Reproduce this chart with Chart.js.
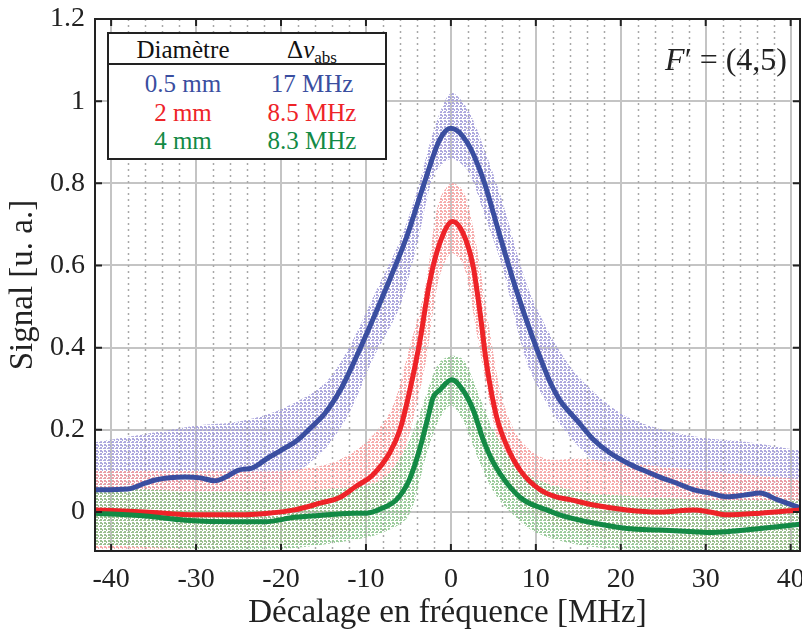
<!DOCTYPE html>
<html>
<head>
<meta charset="utf-8">
<script src="https://cdn.jsdelivr.net/npm/chart.js@4.4.1/dist/chart.umd.min.js"></script>
<style>
  body { margin: 0; background: #fff; }
  #wrap { position: relative; width: 802px; height: 637px; }
  #legendBox {
    position: absolute; left: 107px; top: 32px; width: 276px; height: 124px;
    border: 2px solid #222; background: #fff;
    font-family: "Liberation Serif", "Times New Roman", serif; font-size: 25px;
  }
  #legendBox .row { position: absolute; left: 0; width: 276px; height: 30px; line-height: 30px; }
  #legendBox .c1 { position: absolute; left: 0; width: 148px; text-align: center; }
  #legendBox .c2 { position: absolute; left: 148px; width: 110px; text-align: center; }
  #legendBox .sep { position: absolute; left: 0; top: 29px; width: 276px; height: 2px; background: #222; }
  sub { font-size: 17px; vertical-align: -5px; line-height: 0; }
  #fprime {
    position: absolute; right: 15px; top: 41px;
    font-family: "Liberation Serif", "Times New Roman", serif; font-size: 32px; color: #222;
  }
</style>
</head>
<body>
<div id="wrap">
  <canvas id="myChart" width="802" height="637"></canvas>
  <div id="legendBox">
    <div class="row" style="top:1px;color:#111"><span class="c1">Diamètre</span><span class="c2">Δ<i>ν</i><sub>abs</sub></span></div>
    <div class="sep"></div>
    <div class="row" style="top:35px;color:#3a4ea0"><span class="c1">0.5 mm</span><span class="c2">17 MHz</span></div>
    <div class="row" style="top:64px;color:#ee2328"><span class="c1">2 mm</span><span class="c2">8.5 MHz</span></div>
    <div class="row" style="top:92px;color:#138a45"><span class="c1">4 mm</span><span class="c2">8.3 MHz</span></div>
  </div>
  <div id="fprime"><i>F</i>′ = (4,5)</div>
</div>
<script>
// smoothed signals (MHz, a.u.)
const freqBlue = [-41.9, -38, -36, -34.8, -31.3, -29.5, -27.8, -26.5, -25, -23.4, -21.5, -20, -18, -16.5, -14.8, -12.8, -11.3, -9.2, -7.2, -5.2, -3.3, -1.3, 0, 1.9, 3.8, 5.8, 7.7, 9.7, 11.6, 12.8, 14.8, 16.8, 18.7, 20.7, 22.6, 24.6, 26.6, 28.6, 30.5, 32.5, 34.5, 36.4, 38.4, 41.1];
const sigBlue = [0.054, 0.056, 0.07, 0.078, 0.085, 0.083, 0.076, 0.085, 0.102, 0.107, 0.132, 0.15, 0.176, 0.205, 0.241, 0.305, 0.37, 0.468, 0.566, 0.67, 0.79, 0.907, 0.934, 0.9, 0.81, 0.67, 0.54, 0.42, 0.32, 0.273, 0.224, 0.176, 0.144, 0.12, 0.102, 0.085, 0.07, 0.054, 0.046, 0.037, 0.041, 0.046, 0.03, 0.01];

const freqRed = [-41.9, -36, -30, -25, -21.5, -18.4, -15.3, -13.1, -11.2, -9.2, -7.2, -6.0, -4.9, -3.7, -2.5, -1.3, 0.2, 1.4, 2.6, 3.4, 4.2, 5.4, 6.6, 8.2, 10.5, 12.4, 14, 16.8, 20.7, 24.6, 28.6, 30.5, 32.5, 36.4, 41.1];
const sigRed = [0.005, 0.0, -0.007, -0.007, -0.003, 0.005, 0.022, 0.035, 0.062, 0.09, 0.144, 0.2, 0.29, 0.41, 0.56, 0.655, 0.707, 0.68, 0.6, 0.49, 0.36, 0.23, 0.16, 0.1, 0.054, 0.037, 0.03, 0.017, 0.005, 0.0, 0.005, 0.0, -0.007, -0.003, 0.005];

const freqGreen = [-41.9, -36, -31.3, -25.4, -21.9, -18.4, -14.5, -11.3, -9.9, -8.0, -6.4, -4.9, -3.7, -2.7, -2.1, -1.3, 0.1, 1.4, 2.6, 3.8, 5.0, 6.6, 8.5, 11.3, 12.8, 16.8, 20.7, 24.6, 28.6, 30.5, 32.5, 36.4, 41.1];
const sigGreen = [-0.003, -0.01, -0.02, -0.024, -0.024, -0.013, -0.007, -0.003, -0.003, 0.01, 0.03, 0.078, 0.151, 0.23, 0.278, 0.297, 0.322, 0.297, 0.25, 0.176, 0.12, 0.07, 0.03, 0.005, -0.007, -0.027, -0.04, -0.044, -0.048, -0.05, -0.048, -0.04, -0.03];

// spread of the raw measurements (upper / lower edge of each cloud)
const cloudBlueF = [-41.9, -36, -30, -25, -20, -15, -12, -9, -6, -4, -2, 0, 2, 4, 6, 9, 12, 15, 20, 25, 30, 35, 41.1];
const cloudBlueHi = [0.17, 0.19, 0.21, 0.22, 0.25, 0.31, 0.4, 0.53, 0.66, 0.78, 0.93, 1.02, 0.98, 0.88, 0.76, 0.55, 0.42, 0.33, 0.24, 0.2, 0.18, 0.17, 0.15];
const cloudBlueLo = [0.0, 0.0, 0.02, 0.03, 0.07, 0.15, 0.24, 0.38, 0.5, 0.65, 0.82, 0.86, 0.83, 0.72, 0.6, 0.36, 0.24, 0.16, 0.07, 0.02, 0.0, 0.0, -0.02];

const cloudRedF = [-41.9, -30, -20, -14, -10, -7, -5, -3, -1.5, 0, 1.5, 3, 4.5, 6, 8, 11, 15, 20, 30, 41.1];
const cloudRedHi = [0.1, 0.1, 0.1, 0.12, 0.17, 0.25, 0.39, 0.55, 0.75, 0.8, 0.78, 0.65, 0.45, 0.28, 0.18, 0.13, 0.13, 0.12, 0.1, 0.08];
const cloudRedLo = [-0.09, -0.09, -0.08, -0.06, -0.02, 0.05, 0.18, 0.36, 0.56, 0.63, 0.6, 0.44, 0.27, 0.13, 0.03, -0.02, -0.05, -0.07, -0.09, -0.09];

const cloudGreenF = [-41.9, -30, -20, -12, -8, -5, -3, -1.5, 0, 1.5, 3, 5, 7, 10, 15, 20, 30, 41.1];
const cloudGreenHi = [0.06, 0.05, 0.05, 0.06, 0.08, 0.17, 0.28, 0.36, 0.38, 0.37, 0.3, 0.2, 0.13, 0.08, 0.05, 0.04, 0.03, 0.03];
const cloudGreenLo = [-0.08, -0.09, -0.09, -0.07, -0.05, -0.01, 0.13, 0.22, 0.26, 0.22, 0.14, 0.05, 0.0, -0.05, -0.08, -0.09, -0.095, -0.095];

const xMin = -41.9, xMax = 41.1;
const yMin = -0.095, yMax = 1.2;

const pts = (xs, ys) => xs.map((x, i) => ({ x: x, y: ys[i] }));

// dotted vertical streak texture for the raw-data clouds
function streaks(color) {
  const c = document.createElement("canvas");
  c.width = 4;
  c.height = 6;
  const g = c.getContext("2d");
  g.fillStyle = color;
  g.fillRect(0, 0, 2, 2);
  g.fillRect(0, 3, 2, 2);
  g.fillRect(2, 1, 1, 2);
  g.fillRect(3, 4, 1, 1);
  return g.createPattern(c, "repeat");
}

function cloud(xs, hi, lo, color, order) {
  return [
    { data: pts(xs, hi), borderWidth: 0, pointRadius: 0, fill: "+1", backgroundColor: streaks(color), tension: 0.3, order: order },
    { data: pts(xs, lo), borderWidth: 0, pointRadius: 0, fill: false, tension: 0.3, order: order },
  ];
}

function line(xs, ys, color, order) {
  return { data: pts(xs, ys), borderColor: color, borderWidth: 5, pointRadius: 0, fill: false, cubicInterpolationMode: "monotone", order: order };
}

// minor dotted grid, box frame and inward ticks
const framePlugin = {
  id: "frame",
  beforeDatasetsDraw(chart) {
    const { ctx, chartArea: a, scales } = chart;
    ctx.save();
    ctx.strokeStyle = "#a8a8a8";
    ctx.lineWidth = 1.5;
    ctx.setLineDash([2, 4]);
    for (let v = -40; v <= 40; v += 2) {
      if (v % 10 === 0) continue;
      const px = Math.round(scales.x.getPixelForValue(v)) + 0.5;
      ctx.beginPath();
      ctx.moveTo(px, a.top);
      ctx.lineTo(px, a.bottom);
      ctx.stroke();
    }
    ctx.restore();
  },
  afterDatasetsDraw(chart) {
    const { ctx, chartArea: a, scales } = chart;
    ctx.save();
    ctx.strokeStyle = "#222";
    ctx.lineWidth = 2;
    ctx.strokeRect(a.left, a.top, a.right - a.left, a.bottom - a.top);
    const len = 7;
    ctx.beginPath();
    for (let v = -40; v <= 40; v += 10) {
      const px = scales.x.getPixelForValue(v);
      ctx.moveTo(px, a.bottom);
      ctx.lineTo(px, a.bottom - len);
      ctx.moveTo(px, a.top);
      ctx.lineTo(px, a.top + len);
    }
    for (let v = 0; v <= 1.2001; v += 0.2) {
      const py = scales.y.getPixelForValue(v);
      ctx.moveTo(a.left, py);
      ctx.lineTo(a.left + len, py);
      ctx.moveTo(a.right, py);
      ctx.lineTo(a.right - len, py);
    }
    ctx.stroke();
    ctx.restore();
  },
};

const serif = "'Liberation Serif', 'Times New Roman', serif";

new Chart(document.getElementById("myChart").getContext("2d"), {
  type: "line",
  data: {
    datasets: [
      line(freqGreen, sigGreen, "#138a45", 0),
      line(freqRed, sigRed, "#ee2328", 1),
      line(freqBlue, sigBlue, "#3a4ea0", 2),
      ...cloud(cloudGreenF, cloudGreenHi, cloudGreenLo, "rgba(140, 195, 140, 0.85)", 3),
      ...cloud(cloudRedF, cloudRedHi, cloudRedLo, "rgba(245, 158, 158, 0.85)", 4),
      ...cloud(cloudBlueF, cloudBlueHi, cloudBlueLo, "rgba(165, 160, 218, 0.9)", 5),
    ],
  },
  options: {
    responsive: false,
    animation: false,
    layout: { padding: { top: 19, right: 2, left: 0, bottom: 0 } },
    plugins: { legend: { display: false }, tooltip: { enabled: false } },
    scales: {
      x: {
        type: "linear",
        min: xMin,
        max: xMax,
        grid: { color: "#c4c4c4", lineWidth: 2, drawTicks: false },
        border: { display: false },
        ticks: {
          stepSize: 10,
          includeBounds: false,
          padding: 12,
          color: "#222",
          font: { family: serif, size: 28 },
          maxRotation: 0,
        },
        title: {
          display: true,
          text: "Décalage en fréquence [MHz]",
          color: "#222",
          font: { family: serif, size: 33 },
          padding: { top: 0 },
        },
        afterFit: (scale) => {
          scale.height = 86;
          scale.paddingLeft = 0;
          scale.paddingRight = 0;
        },
      },
      y: {
        min: yMin,
        max: yMax,
        grid: { color: "#c4c4c4", lineWidth: 2, drawTicks: false },
        border: { display: false },
        ticks: {
          stepSize: 0.2,
          includeBounds: false,
          padding: 10,
          color: "#222",
          font: { family: serif, size: 28 },
          callback: (v) => String(+v.toFixed(1)),
        },
        title: {
          display: true,
          text: "Signal [u. a.]",
          color: "#222",
          font: { family: serif, size: 33 },
          padding: { bottom: 0 },
        },
        afterFit: (scale) => {
          scale.width = 95;
          scale.paddingTop = 0;
          scale.paddingBottom = 0;
        },
      },
    },
  },
  plugins: [framePlugin],
});
</script>
</body>
</html>
